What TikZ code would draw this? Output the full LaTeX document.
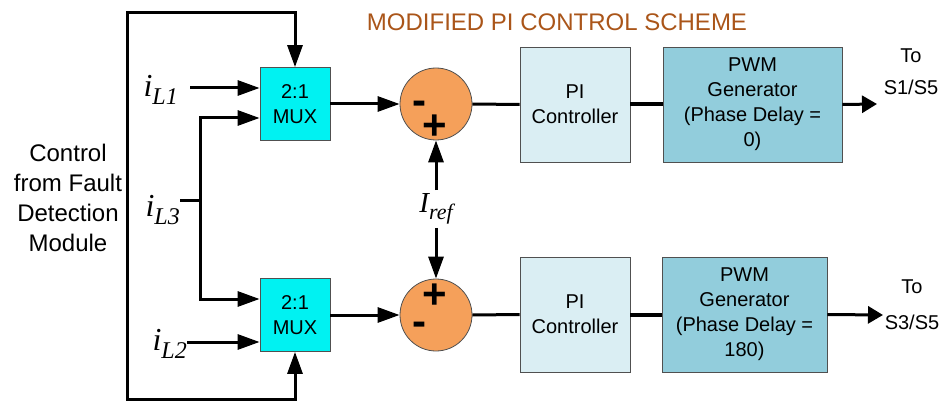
\documentclass[tikz,border=0pt]{standalone}
\usepackage{fontspec}
\setmainfont{Liberation Sans}
\newfontfamily\tnr{Liberation Serif}
\usetikzlibrary{arrows.meta}
\definecolor{muxc}{RGB}{0,242,242}
\definecolor{sumc}{RGB}{245,160,90}
\definecolor{pic}{RGB}{218,238,243}
\definecolor{pwmc}{RGB}{146,205,220}
\definecolor{titlec}{RGB}{170,85,25}
\definecolor{edgec}{RGB}{80,80,80}
\newcommand{\varlab}[2]{{\tnr\itshape\fontsize{32}{32}\selectfont #1\raisebox{-0.26em}{\fontsize{24}{24}\selectfont #2}}}
\newcommand{\reflab}[2]{{\tnr\itshape\fontsize{29}{29}\selectfont #1\raisebox{-0.26em}{\fontsize{22}{22}\selectfont #2}}}
\begin{document}
\begin{tikzpicture}[x=1pt,y=-1pt,
  txt/.style={font=\fontsize{20}{25}\selectfont, align=center},
  muxbox/.style={draw=edgec, line width=0.8pt, fill=muxc, minimum width=70pt, minimum height=73pt, inner sep=0pt, txt},
  pibox/.style={draw=edgec, line width=0.8pt, fill=pic, minimum width=110pt, minimum height=115pt, inner sep=0pt, txt},
  pwmbox/.style={draw=edgec, line width=0.8pt, fill=pwmc, minimum height=115pt, inner sep=0pt, txt},
  sumnode/.style={circle, draw=edgec, line width=0.8pt, fill=sumc, minimum size=72pt, inner sep=0pt},
  sign/.style={font=\fontsize{42}{42}\selectfont\bfseries, inner sep=0pt, anchor=base},
  wire/.style={line width=3pt},
  arr/.style={wire, -{Triangle[length=22pt,width=15pt]}},
  arrb/.style={wire, {Triangle[length=22pt,width=15pt]}-{Triangle[length=22pt,width=15pt]}},
  outarr/.style={wire, -{Triangle[length=15pt,width=17pt]}}
]
\useasboundingbox (0,0) rectangle (948,401);

% title
\node[font=\fontsize{24}{24}\selectfont, text=titlec] (title) at (557,22) {MODIFIED PI CONTROL SCHEME};

% blocks
\node[muxbox] (mux1) at (295,104) {2:1\\MUX};
\node[muxbox] (mux2) at (295,315) {2:1\\MUX};
\node[sumnode] (sum1) at (436,104) {};
\node[sumnode] (sum2) at (436,315) {};
\node[pibox] (pi1) at (575,104.5) {PI\\Controller};
\node[pibox] (pi2) at (575,314.5) {PI\\Controller};
\node[pwmbox, minimum width=179pt] (pwm1) at (752.5,104.5) {PWM\\Generator\\(Phase Delay =\\0)};
\node[pwmbox, minimum width=165pt] (pwm2) at (744.5,314.5) {PWM\\Generator\\(Phase Delay =\\180)};

% signs
\node[sign] (s1m) at (419,115) {-};
\node[sign] (s1p) at (435,140) {+};
\node[sign] (s2p) at (435,308) {+};
\node[sign] (s2m) at (419,335) {-};

% labels
\node[font=\fontsize{24}{30}\selectfont, align=center] (ctrl) at (68,198) {Control\\from Fault\\Detection\\Module};
\node[anchor=east, inner sep=0pt] (iL1) at (178,90) {\varlab{i}{L1}};
\node[anchor=east, inner sep=0pt] (iL3) at (180,210) {\varlab{i}{L3}};
\node[anchor=east, inner sep=0pt] (iL2) at (187,344) {\varlab{i}{L2}};
\node[inner sep=3pt] (iref) at (436,209) {\reflab{I}{ref}};
\node[txt, font=\fontsize{20}{32}\selectfont] (to1) at (911,72) {To\\S1/S5};
\node[txt, font=\fontsize{20}{36}\selectfont] (to2) at (912,305) {To\\S3/S5};

% coordinates
\coordinate (j3) at (200,200);
\coordinate (ctop) at (127,13);
\coordinate (cbot) at (127,399);
\coordinate (o1) at (877,104);
\coordinate (o2) at (883,315);
\coordinate (a1) at (190,88);

% connectors
\draw[arr] (a1) -- ([yshift=16pt]mux1.west);
\draw[arr] (iL2.east |- 0,342) -- ([yshift=-27pt]mux2.west);
\draw[wire] (iL3.east |- j3) -- (j3);
\draw[arr] (j3) |- ([yshift=-14pt]mux1.west);
\draw[arr] (j3) |- ([yshift=16pt]mux2.west);
\draw[arrb] (mux1.north) |- (ctop) -- (cbot) -| (mux2.south);

\draw[arr] (mux1.east) -- (sum1.west);
\draw[arr] (mux2.east) -- (sum2.west);
\draw[arr] (iref.north) -- (sum1.south);
\draw[arr] (iref.south) -- (sum2.north);

\draw[wire] (sum1.east) -- (pi1.west);
\draw[wire] (sum2.east) -- (pi2.west);
\draw[line width=4pt] (pi1.east) -- (pwm1.west);
\draw[line width=4pt] (pi2.east) -- (pwm2.west);
\draw[outarr] (pwm1.east) -- (o1);
\draw[outarr] (pwm2.east) -- (o2);
\end{tikzpicture}
\end{document}
